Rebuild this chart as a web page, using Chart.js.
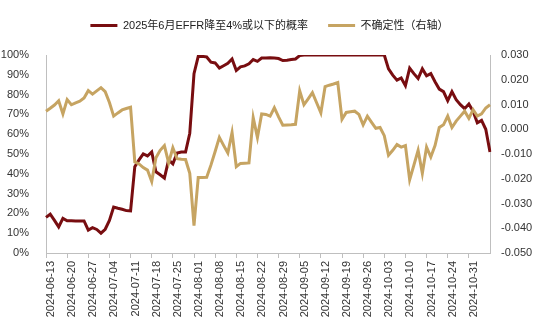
<!DOCTYPE html>
<html>
<head>
<meta charset="utf-8">
<script src="https://cdn.jsdelivr.net/npm/chart.js@4.4.1/dist/chart.umd.min.js"></script>
<style>
  html, body { margin: 0; padding: 0; background: #fff; }
</style>
</head>
<body>
<canvas id="rateChart" width="550" height="329"></canvas>
<script>
// trading days, 2024-06-13 .. 2024-11-07
var dates = [
  '2024-06-13', '2024-06-14',
  '2024-06-17', '2024-06-18', '2024-06-19', '2024-06-20', '2024-06-21',
  '2024-06-24', '2024-06-25', '2024-06-26', '2024-06-27', '2024-06-28',
  '2024-07-01', '2024-07-02', '2024-07-03', '2024-07-04', '2024-07-05',
  '2024-07-08', '2024-07-09', '2024-07-10', '2024-07-11', '2024-07-12',
  '2024-07-15', '2024-07-16', '2024-07-17', '2024-07-18', '2024-07-19',
  '2024-07-22', '2024-07-23', '2024-07-24', '2024-07-25', '2024-07-26',
  '2024-07-29', '2024-07-30', '2024-07-31', '2024-08-01', '2024-08-02',
  '2024-08-05', '2024-08-06', '2024-08-07', '2024-08-08', '2024-08-09',
  '2024-08-12', '2024-08-13', '2024-08-14', '2024-08-15', '2024-08-16',
  '2024-08-19', '2024-08-20', '2024-08-21', '2024-08-22', '2024-08-23',
  '2024-08-26', '2024-08-27', '2024-08-28', '2024-08-29', '2024-08-30',
  '2024-09-02', '2024-09-03', '2024-09-04', '2024-09-05', '2024-09-06',
  '2024-09-09', '2024-09-10', '2024-09-11', '2024-09-12', '2024-09-13',
  '2024-09-16', '2024-09-17', '2024-09-18', '2024-09-19', '2024-09-20',
  '2024-09-23', '2024-09-24', '2024-09-25', '2024-09-26', '2024-09-27',
  '2024-09-30', '2024-10-01', '2024-10-02', '2024-10-03', '2024-10-04',
  '2024-10-07', '2024-10-08', '2024-10-09', '2024-10-10', '2024-10-11',
  '2024-10-14', '2024-10-15', '2024-10-16', '2024-10-17', '2024-10-18',
  '2024-10-21', '2024-10-22', '2024-10-23', '2024-10-24', '2024-10-25',
  '2024-10-28', '2024-10-29', '2024-10-30', '2024-10-31', '2024-11-01',
  '2024-11-04', '2024-11-05', '2024-11-06', '2024-11-07'
];

// probability (%) that EFFR is at or below 4% by June 2025
var effrProb = [
  18.0, 19.6,
  16.5, 13.2, 17.5, 16.3, 16.3,
  16.2, 16.2, 16.2, 11.6, 12.8,
  11.9, 10.0, 12.0, 16.4, 23.2,
  22.6, 22.1, 21.4, 21.3, 43.6,
  47.0, 50.0, 49.0, 51.0, 41.0,
  39.5, 37.8, 47.0, 45.0, 50.5,
  51.0, 51.0, 60.5, 90.6, 99.3,
  99.3, 99.0, 96.4, 96.0, 93.4,
  94.6, 95.8, 98.0, 92.2, 94.0,
  94.5, 95.6, 97.7, 96.8, 98.5,
  98.5, 98.6, 98.5, 98.2, 97.2,
  97.4, 97.7, 98.0, 99.7, 100,
  100, 100, 100, 100, 100,
  100, 100, 100, 100, 100,
  100, 100, 100, 100, 100,
  100, 100, 100, 100, 93.0,
  89.8, 87.3, 88.4, 84.5, 93.4,
  90.6, 88.1, 93.0, 89.5, 90.6,
  86.5, 82.8, 81.5, 76.9, 81.5,
  77.4, 74.9, 72.9, 75.2, 71.6,
  65.8, 67.0, 62.5, 51.0
];

// uncertainty (right axis)
var uncertainty = [
  0.0073, 0.0085,
  0.0098, 0.0115, 0.0062, 0.0120, 0.0099,
  0.0107, 0.0113, 0.0126, 0.0156, 0.0142,
  0.0155, 0.0168, 0.0152, 0.0108, 0.0053,
  0.0066, 0.0078, 0.0084, 0.0089, -0.0132,
  -0.0140, -0.0155, -0.0165, -0.0211, -0.0115,
  -0.0085, -0.0066, -0.0136, -0.0075, -0.0119,
  -0.0121, -0.0122, -0.0178, -0.0389, -0.0195,
  -0.0195, -0.0194, -0.0145, -0.0090, -0.0033,
  -0.0065, -0.0096, -0.0013, -0.0151, -0.0138,
  -0.0137, -0.0136, 0.0047, -0.0033, 0.0062,
  0.0060, 0.0053, 0.0087, 0.0050, 0.0016,
  0.0017, 0.0018, 0.0020, 0.0155, 0.0099,
  0.0123, 0.0148, 0.0107, 0.0066, 0.0172,
  0.0178, 0.0183, 0.0189, 0.0040, 0.0068,
  0.0071, 0.0073, 0.0060, 0.0018, 0.0053,
  0.0028, 0.0004, 0.0007, -0.0026, -0.0105,
  -0.0085, -0.0062, -0.0072, -0.0066, -0.0204,
  -0.0145, -0.0085, -0.0178, -0.0072, -0.0112,
  -0.0066, 0.0007, 0.0018, 0.0053, 0.0007,
  0.0033, 0.0053, 0.0073, 0.0044, 0.0079,
  0.0053, 0.0062, 0.0086, 0.0099
];

var seriesNames = ['2025年6月EFFR降至4%或以下的概率', '不确定性（右轴）'];
var labelEvery = 5;
var lastLabelled = 100; // 2024-10-31

var font = { family: '"Liberation Sans", "Noto Sans CJK SC", Arial, sans-serif', size: 11 };
var axisColor = '#bfbfbf';
var textColor = '#333333';

// keep the plot area clear of the legend
var legendSpacer = {
  id: 'legendSpacer',
  beforeInit: function (chart) {
    var fit = chart.legend.fit;
    chart.legend.fit = function () {
      fit.call(this);
      this.height = 55;
    };
  }
};

var rateChart = new Chart('rateChart', {
  type: 'line',
  data: {
    labels: dates,
    datasets: [{
      label: seriesNames[0],
      data: effrProb,
      yAxisID: 'y',
      borderColor: '#780d10',
      backgroundColor: '#780d10',
      borderWidth: 3,
      pointRadius: 0,
      tension: 0,
      order: 1
    }, {
      label: seriesNames[1],
      data: uncertainty,
      yAxisID: 'y1',
      borderColor: '#c6a462',
      backgroundColor: '#c6a462',
      borderWidth: 3,
      pointRadius: 0,
      tension: 0,
      order: 0
    }]
  },
  options: {
    responsive: false,
    animation: false,
    layout: { padding: { top: 0, left: 0, right: 11, bottom: 0 } },
    plugins: {
      tooltip: { enabled: false },
      legend: {
        position: 'top',
        labels: {
          font: font,
          color: '#222222',
          boxWidth: 27,
          boxHeight: 3,
          padding: 20,
          sort: function (a, b) { return a.datasetIndex - b.datasetIndex; },
          generateLabels: function (chart) {
            return Chart.defaults.plugins.legend.labels.generateLabels(chart).map(function (item) {
              item.lineWidth = 0;
              return item;
            });
          }
        }
      }
    },
    scales: {
      x: {
        type: 'category',
        offset: false,
        border: { display: true, color: axisColor },
        grid: { display: true, drawOnChartArea: false, drawTicks: true, tickLength: 5, color: axisColor },
        ticks: { autoSkip: false, minRotation: 90, maxRotation: 90, padding: 3, labelOffset: 5, font: font, color: textColor },
        afterBuildTicks: function (scale) {
          scale.ticks = scale.ticks.filter(function (t) {
            return t.value % labelEvery === 0 && t.value <= lastLabelled;
          });
        },
        afterFit: function (scale) { scale.height = 76; }
      },
      y: {
        position: 'left',
        min: 0,
        max: 100,
        grid: { display: false },
        border: { display: true, color: axisColor },
        ticks: {
          stepSize: 10,
          padding: 9,
          font: font,
          color: textColor,
          callback: function (v) { return v + '%'; }
        },
        afterFit: function (scale) { scale.width = 46; }
      },
      y1: {
        position: 'right',
        min: -0.05,
        max: 0.03,
        grid: { display: false },
        border: { display: true, color: axisColor },
        ticks: {
          stepSize: 0.01,
          padding: 3,
          font: font,
          color: textColor,
          callback: function (v) { return Math.abs(v) < 1e-9 ? '0.000' : v.toFixed(3); }
        },
        afterFit: function (scale) { scale.width = 49; }
      }
    }
  },
  plugins: [legendSpacer]
});
</script>
</body>
</html>
